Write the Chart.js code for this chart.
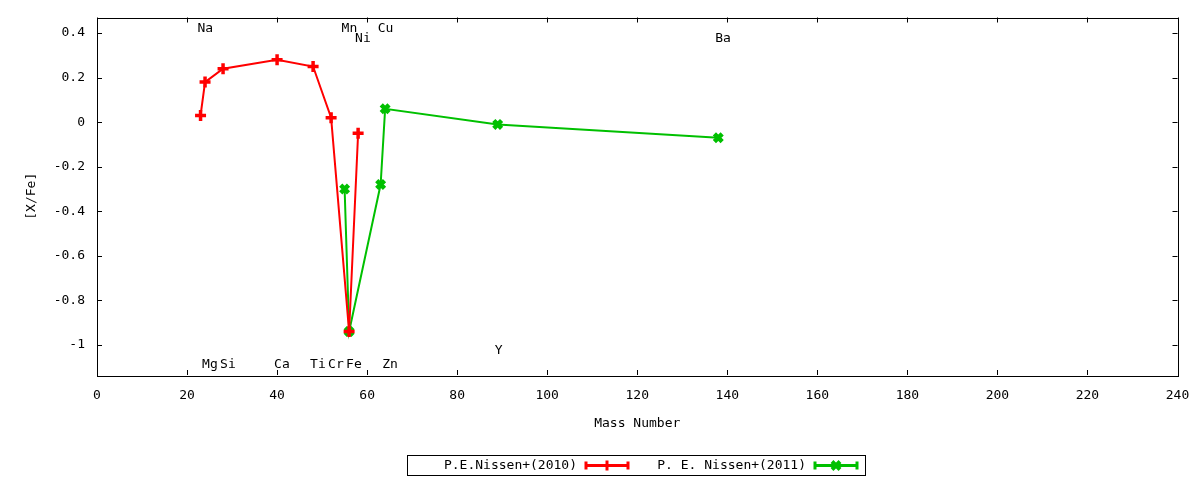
<!DOCTYPE html>
<html>
<head>
<meta charset="utf-8">
<script src="https://cdn.jsdelivr.net/npm/chart.js@4"></script>
<style>
  html, body { margin: 0; padding: 0; background: #fff; }
  #wrap { width: 1200px; height: 480px; }
</style>
</head>
<body>
<div id="wrap"><canvas id="abundChart" width="1200" height="480"></canvas></div>
<script>
// DATA

const masses2010 = [23, 24, 28, 40, 48, 52, 56, 58];
const values2010 = [0.03, 0.18, 0.24, 0.28, 0.25, 0.02, -0.94, -0.05];

const masses2011 = [55, 56, 63, 64, 89, 138];
const values2011 = [-0.30, -0.94, -0.28, 0.06, -0.01, -0.07];

const xTicks = [0, 20, 40, 60, 80, 100, 120, 140, 160, 180, 200, 220, 240];
const yTicks = [-1, -0.8, -0.6, -0.4, -0.2, 0, 0.2, 0.4];

// element name labels placed in data coordinates
const elemNames = ["Na", "Mg", "Si", "Ca", "Ti", "Cr", "Mn", "Fe", "Ni", "Cu", "Zn", "Y", "Ba"];
const elemMass  = [23, 24, 28, 40, 48, 52, 55, 56, 58, 63, 64, 89, 138];
const elemY     = [0.42, -1.09, -1.09, -1.09, -1.09, -1.09, 0.42, -1.09, 0.375, 0.42, -1.09, -1.025, 0.375];

const legendNames = ["P.E.Nissen+(2010)", "P. E. Nissen+(2011)"];

const FONT = "13px 'DejaVu Sans Mono', monospace";
const RED = "#ff0000";
const GREEN = "#00c000";

function toPoints(xs, ys) {
  return xs.map((x, i) => ({ x: x, y: ys[i] }));
}

// frame, inside ticks, axis titles, element labels, legend
const gnuplotLook = {
  id: "gnuplotLook",
  beforeDatasetsDraw(chart) {
    const ctx = chart.ctx;
    const a = chart.chartArea;
    const xs = chart.scales.x;
    const ys = chart.scales.y;
    const tl = 5;

    ctx.save();
    ctx.strokeStyle = "#000";
    ctx.lineWidth = 1;
    ctx.beginPath();
    xTicks.forEach(v => {
      const px = Math.round(xs.getPixelForValue(v)) + 0.5;
      ctx.moveTo(px, a.bottom);
      ctx.lineTo(px, a.bottom - tl);
      ctx.moveTo(px, a.top);
      ctx.lineTo(px, a.top + tl);
    });
    yTicks.forEach(v => {
      const py = Math.round(ys.getPixelForValue(v)) + 0.5;
      ctx.moveTo(a.left, py);
      ctx.lineTo(a.left + tl, py);
      ctx.moveTo(a.right, py);
      ctx.lineTo(a.right - tl, py);
    });
    ctx.stroke();
    ctx.strokeRect(Math.round(a.left) + 0.5, Math.round(a.top) + 0.5,
      Math.round(a.right - a.left), Math.round(a.bottom - a.top));
    ctx.restore();
  },
  afterDraw(chart) {
    const ctx = chart.ctx;
    const a = chart.chartArea;
    const xs = chart.scales.x;
    const ys = chart.scales.y;

    ctx.save();
    ctx.fillStyle = "#000";
    ctx.font = FONT;
    ctx.textBaseline = "middle";

    // element labels
    ctx.textAlign = "left";
    elemNames.forEach((name, i) => {
      ctx.fillText(name, xs.getPixelForValue(elemMass[i]) - 3, ys.getPixelForValue(elemY[i]));
    });

    // axis titles
    ctx.textAlign = "center";
    ctx.fillText("Mass Number", (a.left + a.right) / 2, 424);
    ctx.save();
    ctx.translate(32, (a.top + a.bottom) / 2);
    ctx.rotate(-Math.PI / 2);
    ctx.fillText("[X/Fe]", 0, 0);
    ctx.restore();

    // legend box
    ctx.strokeStyle = "#000";
    ctx.lineWidth = 1;
    ctx.strokeRect(407.5, 455.5, 458, 20);

    const ly = 465.5;
    ctx.textAlign = "right";
    ctx.fillText(legendNames[0], 577, ly);
    ctx.fillText(legendNames[1], 806, ly);

    drawSample(ctx, 585, 629, ly, RED, "plus");
    drawSample(ctx, 814, 858, ly, GREEN, "cross");
    ctx.restore();
  }
};

function drawSample(ctx, x0, x1, y, color, marker) {
  ctx.save();
  ctx.strokeStyle = color;
  ctx.lineWidth = 3;
  ctx.beginPath();
  ctx.moveTo(x0, y);
  ctx.lineTo(x1, y);
  // end caps
  ctx.moveTo(x0 + 1, y - 4);
  ctx.lineTo(x0 + 1, y + 4);
  ctx.moveTo(x1 - 1, y - 4);
  ctx.lineTo(x1 - 1, y + 4);
  ctx.stroke();
  const cx = (x0 + x1) / 2;
  ctx.beginPath();
  if (marker === "plus") {
    ctx.moveTo(cx, y - 5);
    ctx.lineTo(cx, y + 5);
  } else {
    ctx.lineWidth = 4;
    ctx.moveTo(cx - 4, y - 4);
    ctx.lineTo(cx + 4, y + 4);
    ctx.moveTo(cx - 4, y + 4);
    ctx.lineTo(cx + 4, y - 4);
  }
  ctx.stroke();
  ctx.restore();
}

const abundCtx = document.getElementById("abundChart");

new Chart(abundCtx, {
  type: "scatter",
  data: {
    datasets: [{
      label: legendNames[0],
      data: toPoints(masses2010, values2010),
      showLine: true,
      borderColor: RED,
      backgroundColor: RED,
      borderWidth: 2,
      pointStyle: "cross",
      pointRadius: 5.5,
      pointBorderWidth: 3.5,
      pointBorderColor: RED
    }, {
      label: legendNames[1],
      data: toPoints(masses2011, values2011),
      showLine: true,
      borderColor: GREEN,
      backgroundColor: GREEN,
      borderWidth: 2,
      pointStyle: "crossRot",
      pointRadius: 5.5,
      pointBorderWidth: 4.5,
      pointBorderColor: GREEN
    }]
  },
  options: {
    responsive: false,
    animation: false,
    devicePixelRatio: 1,
    layout: {
      padding: { left: 0, right: 22.5, top: 17.5, bottom: 0 }
    },
    plugins: {
      legend: { display: false },
      tooltip: { enabled: false }
    },
    scales: {
      x: {
        type: "linear",
        min: 0,
        max: 240,
        afterFit(scale) {
          scale.height = 105;
          scale.paddingLeft = 0;
          scale.paddingRight = 0;
        },
        afterBuildTicks(scale) { scale.ticks = xTicks.map(v => ({ value: v })); },
        grid: { display: false, drawTicks: false },
        border: { display: false },
        ticks: {
          color: "#000",
          padding: 13,
          font: { family: "'DejaVu Sans Mono', monospace", size: 13 },
          maxRotation: 0,
          callback: v => String(v)
        }
      },
      y: {
        type: "linear",
        min: -1.135,
        max: 0.47,
        afterFit(scale) {
          scale.width = 97;
          scale.paddingTop = 0;
          scale.paddingBottom = 0;
        },
        afterBuildTicks(scale) { scale.ticks = yTicks.map(v => ({ value: v })); },
        grid: { display: false, drawTicks: false },
        border: { display: false },
        ticks: {
          color: "#000",
          padding: 12,
          font: { family: "'DejaVu Sans Mono', monospace", size: 13 },
          callback: v => String(Math.round(v * 10) / 10)
        }
      }
    }
  },
  plugins: [gnuplotLook]
});
</script>
</body>
</html>
